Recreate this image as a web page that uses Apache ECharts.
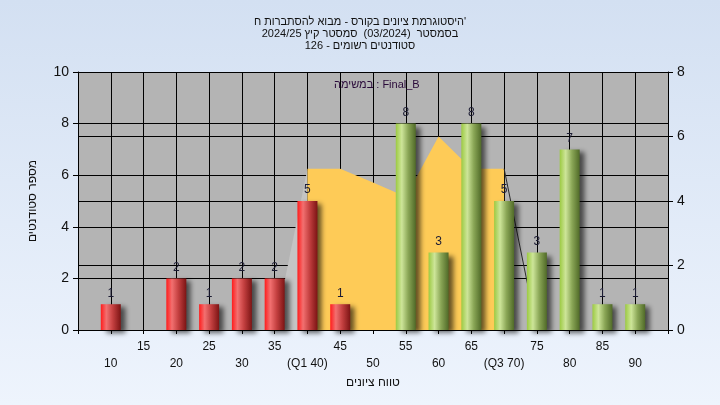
<!DOCTYPE html>
<html>
<head>
<meta charset="utf-8">
<script src="https://cdn.jsdelivr.net/npm/echarts@6/dist/echarts.min.js"></script>
<style>
html,body{margin:0;padding:0;}
#c{width:720px;height:405px;}
</style>
</head>
<body>
<div id="c"></div>
<script>
// ---- data ----
var scores = [10, 15, 20, 25, 30, 35, 40, 45, 50, 55, 60, 65, 70, 75, 80, 85, 90];
var counts = [1, 0, 2, 1, 2, 2, 5, 1, 0, 8, 3, 8, 5, 3, 7, 1, 1];
var tickLabels = ['10', '15', '20', '25', '30', '35', '(Q1 40)', '45', '50', '55', '60', '65', '(Q3 70)', '75', '80', '85', '90'];
var bandX = [40, 45, 50, 55, 60, 65, 70];
var bandY = [5, 5, 4.57, 4.13, 6, 5, 5];
var leftEdgeX = [35, 40];
var leftEdgeY = [0, 5];
var rightEdgeX = [70, 75];
var rightEdgeY = [5, 0];
var passScore = 50;
var titleLines = ["היסטוגרמת ציונים בקורס - מבוא להסתברות ח'", "בסמסטר  (03/2024)  סמסטר קיץ 2024/25", "סטודנטים רשומים - 126"];
var legendText = 'במשימה : Final_B';
var yName = 'מספר סטודנטים';
var xName = 'טווח ציונים';

var FONT = '"Liberation Sans", Arial, sans-serif';

function pairs(xs, ys) { return xs.map(function (x, i) { return [x, ys[i]]; }); }

var redGrad = new echarts.graphic.LinearGradient(0, 0, 1, 0, [
  {offset: 0, color: '#ff1c1c'}, {offset: 0.28, color: '#f27070'},
  {offset: 0.6, color: '#c44040'}, {offset: 1, color: '#7c1414'}]);
var greenGrad = new echarts.graphic.LinearGradient(0, 0, 1, 0, [
  {offset: 0, color: '#9cca42'}, {offset: 0.3, color: '#cde599'},
  {offset: 0.62, color: '#8aa656'}, {offset: 1, color: '#506a28'}]);

var barData = [];
scores.forEach(function (s, i) {
  if (counts[i] > 0) {
    barData.push({value: [s, counts[i]], itemStyle: {color: s < passScore ? redGrad : greenGrad}});
  }
});

var chart = echarts.init(document.getElementById('c'), null, {renderer: 'canvas'});
chart.setOption({
  animation: false,
  backgroundColor: new echarts.graphic.LinearGradient(0, 0, 0, 1, [
    {offset: 0, color: '#d3e0f2'}, {offset: 1, color: '#eef4fd'}]),
  textStyle: {fontFamily: FONT},
  title: {
    text: titleLines.join('\n'),
    left: 'center', top: 11,
    textStyle: {fontFamily: FONT, fontSize: 11, fontWeight: 'normal', color: '#111', lineHeight: 12}
  },
  graphic: [{
    type: 'text', left: 334, top: 79, z: 10,
    style: {text: legendText, fontFamily: FONT, fontSize: 11, fill: '#2a0a3a'}
  }],
  grid: {left: 78, right: 52, top: 72, bottom: 75, show: true, backgroundColor: '#b4b4b4', borderWidth: 0},
  xAxis: {
    type: 'value', min: 5, max: 95, interval: 5,
    name: xName, nameLocation: 'middle', nameGap: 45,
    nameTextStyle: {fontFamily: FONT, fontSize: 12, color: '#111'},
    axisLine: {show: true, onZero: false, lineStyle: {color: '#000', width: 1}},
    axisTick: {show: true, length: 4, lineStyle: {color: '#000'}},
    splitLine: {show: true, lineStyle: {color: '#000', width: 1}},
    axisLabel: {
      margin: 8, fontFamily: FONT, fontSize: 12, color: '#111', lineHeight: 17,
      showMinLabel: true, showMaxLabel: true,
      formatter: function (v) {
        var i = scores.indexOf(v);
        if (i < 0) return '';
        return (v % 10 === 0) ? '\n' + tickLabels[i] : tickLabels[i] + '\n';
      }
    }
  },
  yAxis: [{
    type: 'value', min: 0, max: 10, interval: 2, position: 'left',
    name: yName, nameLocation: 'middle', nameGap: 39, nameRotate: 90,
    nameTextStyle: {fontFamily: FONT, fontSize: 12, color: '#111'},
    axisLine: {show: true, lineStyle: {color: '#000'}},
    axisTick: {show: true, length: 5, lineStyle: {color: '#000'}},
    splitLine: {show: true, lineStyle: {color: '#000', width: 1}},
    axisLabel: {margin: 9, fontFamily: FONT, fontSize: 14, color: '#111'}
  }, {
    type: 'value', min: 0, max: 8, interval: 2, position: 'right',
    axisLine: {show: true, lineStyle: {color: '#000'}},
    axisTick: {show: true, length: 5, lineStyle: {color: '#000'}},
    splitLine: {show: true, lineStyle: {color: '#000', width: 1}},
    axisLabel: {margin: 9, fontFamily: FONT, fontSize: 14, color: '#111'}
  }],
  series: [{
    type: 'line', yAxisIndex: 1, z: 1, symbol: 'none', silent: true,
    data: pairs(leftEdgeX, leftEdgeY),
    lineStyle: {width: 0},
    areaStyle: {color: '#c4c4c4', opacity: 1}
  }, {
    type: 'line', yAxisIndex: 1, z: 1, symbol: 'none', silent: true,
    data: pairs(bandX, bandY),
    lineStyle: {width: 0},
    areaStyle: {color: '#fecb57', opacity: 1}
  }, {
    type: 'line', yAxisIndex: 1, z: 1, symbol: 'none', silent: true,
    data: pairs(rightEdgeX, rightEdgeY),
    lineStyle: {width: 1, color: '#2a2a2a'}
  }, {
    type: 'bar', yAxisIndex: 0, z: 3, barWidth: 20, clip: false,
    data: barData,
    itemStyle: {shadowColor: 'rgba(0,0,0,0.6)', shadowBlur: 5, shadowOffsetX: 5, shadowOffsetY: 3},
    label: {show: true, position: 'top', distance: 5, fontFamily: FONT, fontSize: 12, color: '#1c1c34',
      formatter: function (p) { return p.value[1]; }}
  }]
});
</script>
</body>
</html>
